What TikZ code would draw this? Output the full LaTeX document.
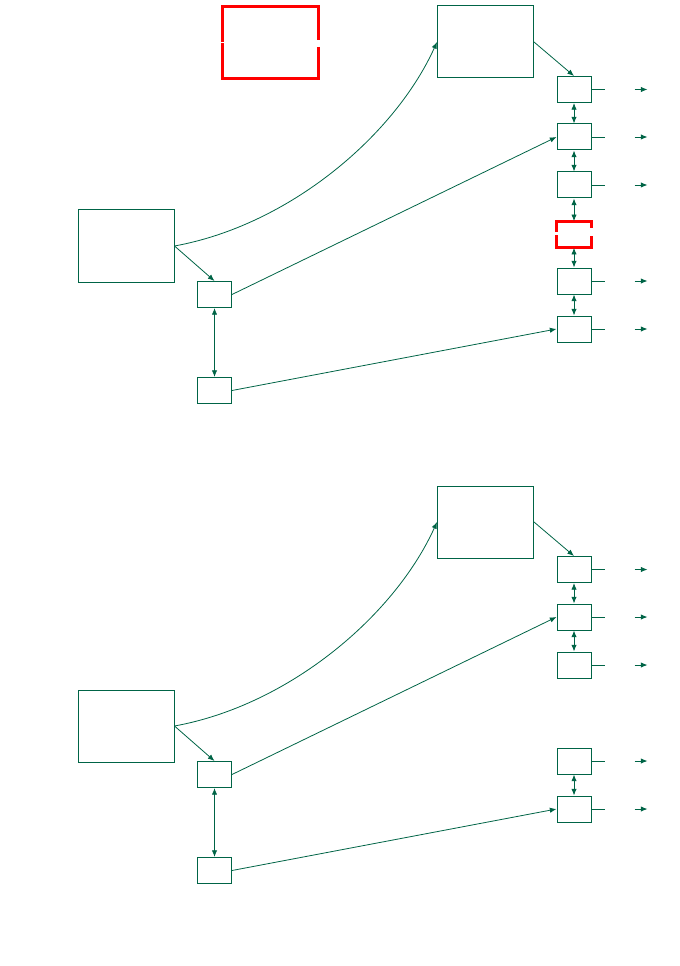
\documentclass[tikz,border=0pt]{standalone}
\usetikzlibrary{arrows.meta}
\definecolor{dg}{RGB}{0,100,70}
\definecolor{rd}{RGB}{255,0,0}
\begin{document}
\begin{tikzpicture}[x=0.75pt,y=-0.75pt,
  big/.style={draw=dg,line width=0.75pt,rectangle,inner sep=0,minimum width=72pt,minimum height=54pt},
  sm/.style={draw=dg,line width=0.75pt,rectangle,inner sep=0,minimum width=25.5pt,minimum height=19.5pt},
  smred/.style={draw=none,rectangle,inner sep=0,minimum width=25.5pt,minimum height=19.5pt},
  bigred/.style={draw=none,rectangle,inner sep=0,minimum width=72pt,minimum height=54pt},
  conn/.style={dg,line width=0.6pt,-{Latex[length=5pt,width=4pt]}},
  dbl/.style={dg,line width=0.6pt,{Latex[length=5pt,width=4pt]}-{Latex[length=5pt,width=4pt]}},
  stub/.style={dg,line width=0.6pt},
  redline/.style={rd,line width=2.25pt}]
\useasboundingbox (0,0) rectangle (680,966);
% ---------- top panel ----------
\node[big] (A1) at (126,246) {};
\node[big] (B1) at (485.5,42) {};
\node[bigred] (R1) at (270.5,42.5) {};
\node[sm] (C1) at (214.5,294.5) {};
\node[sm] (D1) at (214.5,390.5) {};
\node[sm] (r11) at (574,89.5) {};
\node[sm] (r12) at (574,137) {};
\node[sm] (r13) at (574,185) {};
\node[smred] (r14) at (574,234.5) {};
\node[sm] (r15) at (574,281) {};
\node[sm] (r16) at (574,329) {};
\draw[redline] (R1.west |- 0,42.5) -- (R1.north west) -- (R1.north east) -- (R1.east |- 0,40);
\draw[redline] (R1.east |- 0,47) -- (R1.south east) -- (R1.south west) -- (R1.west |- 0,43.5);
\draw[redline] (r14.west |- 0,232) -- (r14.north west) -- (r14.north east) -- (r14.east |- 0,228);
\draw[redline] (r14.east |- 0,236) -- (r14.south east) -- (r14.south west) -- (r14.west |- 0,234.5);
\draw[conn] (A1.east) .. controls (290,225) and (395,135) .. (B1.west);
\draw[conn] (A1.east) -- (C1.north);
\draw[conn] (B1.east) -- (r11.north);
\draw[conn] (C1.east) -- (r12.west);
\draw[conn] (D1.east) -- (r16.west);
\draw[dbl] (C1.south) -- (D1.north);
\draw[dbl] (r11.south) -- (r12.north);
\draw[dbl] (r12.south) -- (r13.north);
\draw[dbl] (r13.south) -- (r14.north);
\draw[dbl] (r14.south) -- (r15.north);
\draw[dbl] (r15.south) -- (r16.north);
\foreach \n in {r11,r12,r13,r15,r16}{
  \coordinate (\n s) at ([xshift=9.75pt]\n.east);
  \coordinate (\n a) at ([xshift=32.25pt]\n.east);
  \coordinate (\n b) at ([xshift=42pt]\n.east);
  \draw[stub] (\n.east) -- (\n s);
  \draw[conn] (\n a) -- (\n b);
}
% ---------- bottom panel ----------
\node[big] (A2) at (126,726) {};
\node[big] (B2) at (485.5,522) {};
\node[sm] (C2) at (214.5,774.5) {};
\node[sm] (D2) at (214.5,870.5) {};
\node[sm] (r21) at (574,569.5) {};
\node[sm] (r22) at (574,617) {};
\node[sm] (r23) at (574,665) {};
\node[sm] (r25) at (574,761) {};
\node[sm] (r26) at (574,809) {};
\draw[conn] (A2.east) .. controls (290,705) and (395,615) .. (B2.west);
\draw[conn] (A2.east) -- (C2.north);
\draw[conn] (B2.east) -- (r21.north);
\draw[conn] (C2.east) -- (r22.west);
\draw[conn] (D2.east) -- (r26.west);
\draw[dbl] (C2.south) -- (D2.north);
\draw[dbl] (r21.south) -- (r22.north);
\draw[dbl] (r22.south) -- (r23.north);
\draw[dbl] (r25.south) -- (r26.north);
\foreach \n in {r21,r22,r23,r25,r26}{
  \coordinate (\n s) at ([xshift=9.75pt]\n.east);
  \coordinate (\n a) at ([xshift=32.25pt]\n.east);
  \coordinate (\n b) at ([xshift=42pt]\n.east);
  \draw[stub] (\n.east) -- (\n s);
  \draw[conn] (\n a) -- (\n b);
}
\end{tikzpicture}
\end{document}
